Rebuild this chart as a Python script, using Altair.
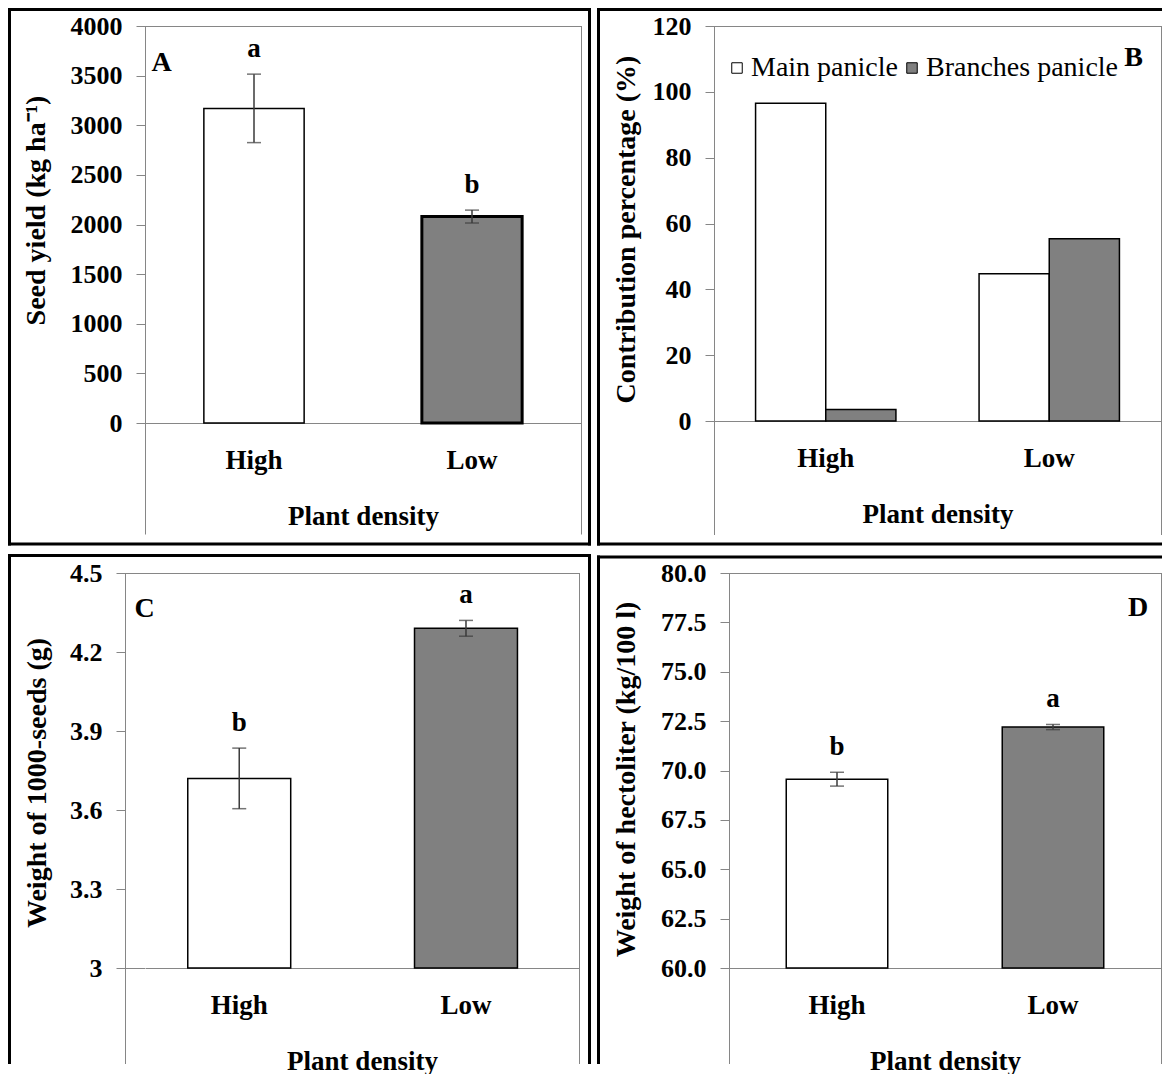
import altair as alt
import pandas as pd

# ---------------- data ----------------
densities = ["High", "Low"]

# A: seed yield (kg/ha)
yield_mean = [3170, 2080]
yield_err = [345, 65]
yield_letter = ["a", "b"]

# B: contribution percentage (%)
parts = ["Main panicle", "Branches panicle"]
contrib_high = [96.5, 3.5]
contrib_low = [44.7, 55.4]

# C: weight of 1000 seeds (g)
tsw_mean = [3.72, 4.29]
tsw_err = [0.115, 0.03]
tsw_letter = ["b", "a"]

# D: hectoliter weight (kg/100 l)
hl_mean = [69.56, 72.2]
hl_err = [0.35, 0.13]
hl_letter = ["b", "a"]

# ---------------- style ----------------
FONT = "Liberation Serif"
GRAY = "#868686"
ERR = "#3a3a3a"
FILLS = ["white", "#808080"]
one = alt.Data(values=[{"k": 0}])


def box(x0, x1, y0, y1, color):
    # filled strip used for panel borders / plot-area frame lines (exact bounds)
    return alt.Chart(one).mark_rect(color=color).encode(
        x=alt.value(x0), x2=alt.value(x1), y=alt.value(y0), y2=alt.value(y1))


def label(x, y, t, size=28):
    return alt.Chart(one).mark_text(font=FONT, fontSize=size, fontWeight="bold", color="black",
                                    align="center", baseline="middle").encode(
        x=alt.value(x), y=alt.value(y), text=alt.value(t))


def y_axis(values, fmt, tx, ty, offset=0):
    return alt.Axis(values=values, format=fmt, grid=False, domainColor=GRAY, tickColor=GRAY,
                    tickSize=9, tickWidth=1, labelFont=FONT, labelFontSize=26, labelFontWeight="bold",
                    labelColor="black", labelPadding=14, labelOverlap=False, offset=offset,
                    titleFont=FONT, titleFontSize=28, titleFontWeight="bold", titleColor="black",
                    titleX=tx, titleY=ty, titleBaseline="middle", titleAlign="center")


def x_axis():
    return alt.Axis(ticks=False, domainColor=GRAY, labelAngle=0, labelFont=FONT, labelFontSize=27,
                    labelFontWeight="bold", labelColor="black", labelBaseline="middle", labelPadding=37,
                    titleFont=FONT, titleFontSize=27, titleFontWeight="bold", titleColor="black",
                    titleY=93, titleBaseline="middle")


def frame(W, H, x0, ext, left, top, right, bottom, sides):
    # grey Excel plot-area frame (extends below the category axis) + 3 px black panel border
    g = [box(x0, x0 + 1, 0, H + ext, GRAY), box(W, W + 1, 0, H + ext, GRAY),
         box(x0, W + 1, 0, 1, GRAY)]
    if x0:
        g.append(box(x0, 0, H, H + 1, GRAY))
    lx = left - 1.5
    rx = right + 1.5 if "r" in sides else right
    by = bottom + 1.5 if "b" in sides else bottom
    if "l" in sides:
        g.append(box(left - 1.5, left + 1.5, top - 1.5, by, "black"))
    if "r" in sides:
        g.append(box(right - 1.5, right + 1.5, top - 1.5, by, "black"))
    if "t" in sides:
        g.append(box(lx, rx, top - 1.5, top + 1.5, "black"))
    if "b" in sides:
        g.append(box(lx, rx, bottom - 1.5, bottom + 1.5, "black"))
    return g


def bar_panel(means, errs, letters, widths, y_title, domain, ticks, fmt, W, H, xsc, tx, ty,
              deco, x0=0):
    df = pd.DataFrame({"density": densities, "value": means, "err": errs, "letter": letters,
                       "sw": widths})
    df["lo"] = df["value"] - df["err"]
    df["hi"] = df["value"] + df["err"]
    df["base"] = domain[0]
    base = alt.Chart(df)
    xenc = alt.X("density:N", sort=densities, title="Plant density", axis=x_axis(), scale=xsc)
    ysc = alt.Scale(domain=domain, nice=False, zero=False)
    yax = y_axis(ticks, fmt, tx, ty, offset=-x0)
    bars = base.mark_bar(stroke="black").encode(
        x=xenc,
        y=alt.Y("value:Q", scale=ysc, axis=yax, title=y_title),
        y2="base:Q",
        fill=alt.Fill("density:N", scale=alt.Scale(domain=densities, range=FILLS), legend=None),
        strokeWidth=alt.StrokeWidth("sw:Q", scale=None),
    )
    eb = base.mark_rule(color=ERR, strokeWidth=1.5).encode(
        x=xenc, y=alt.Y("lo:Q", scale=ysc, axis=yax, title=y_title), y2="hi:Q")
    cap_lo = base.mark_tick(color=ERR, thickness=1.5, size=14, orient="horizontal").encode(
        x=xenc, y=alt.Y("lo:Q", scale=ysc, axis=yax, title=y_title))
    cap_hi = base.mark_tick(color=ERR, thickness=1.5, size=14, orient="horizontal").encode(
        x=xenc, y=alt.Y("hi:Q", scale=ysc, axis=yax, title=y_title))
    txt = base.mark_text(font=FONT, fontSize=27, fontWeight="bold", color="black",
                         baseline="middle", dy=-25).encode(
        x=xenc, y=alt.Y("hi:Q", scale=ysc, axis=yax, title=y_title), text="letter:N")
    return alt.layer(bars, eb, cap_lo, cap_hi, txt, *deco).properties(width=W, height=H)


# ---------------- panel A ----------------
WA, HA = 436, 397
panelA = bar_panel(yield_mean, yield_err, yield_letter, [1.5, 3], "Seed yield (kg ha\u207b\u00b9)",
                   [0, 4000], list(range(0, 4001, 500)), "d", WA, HA,
                   alt.Scale(paddingInner=0.54, paddingOuter=0.27), -109, 184,
                   frame(WA, HA, 0, 111.5, -135.5, -16.5, WA + 8.5, HA + 121, "lrtb")
                   + [label(16.5, 36.6, "A")])

# ---------------- panel B ----------------
WB, HB = 447, 395
dfB = pd.DataFrame({"density": ["High", "High", "Low", "Low"],
                    "part": parts * 2,
                    "value": contrib_high + contrib_low})
barsB = alt.Chart(dfB).mark_bar(stroke="black", strokeWidth=1.5).encode(
    x=alt.X("density:N", sort=densities, title="Plant density", axis=x_axis(),
            scale=alt.Scale(paddingInner=0.372, paddingOuter=0.186)),
    xOffset=alt.XOffset("part:N", sort=parts, scale=alt.Scale(paddingInner=0, paddingOuter=0)),
    y=alt.Y("value:Q", scale=alt.Scale(domain=[0, 120], nice=False),
            axis=y_axis(list(range(0, 121, 20)), "d", -88, 203),
            title="Contribution percentage (%)"),
    fill=alt.Fill("part:N", sort=parts, scale=alt.Scale(domain=parts, range=FILLS),
                  legend=alt.Legend(orient="none", legendX=9, legendY=28, direction="horizontal",
                                    title=None, symbolType="square", symbolSize=110,
                                    symbolStrokeColor="black", symbolStrokeWidth=1,
                                    labelFont=FONT, labelFontSize=28, labelColor="black",
                                    labelOffset=0, columnPadding=0, labelLimit=400)),
)
panelB = alt.layer(barsB, *frame(WB, HB, 0, 114, -115.5, -16.5, WB + 1, HB + 123, "ltb"),
                   label(419.5, 31.5, "B")).properties(width=WB, height=HB)

# ---------------- panel C ----------------
# plot origin shares the column origin with panel A; its value axis sits 20 px further left
WC, HC, XC = 434, 395, -20
panelC = bar_panel(tsw_mean, tsw_err, tsw_letter, [1.5, 1.5], "Weight of 1000-seeds (g)",
                   [3, 4.5], [3, 3.3, 3.6, 3.9, 4.2, 4.5], "~g", WC, HC,
                   alt.Scale(paddingInner=0.546, paddingOuter=0.23, align=0.41), -87.5, 209.5,
                   frame(WC, HC, XC, 96, -135.5, -17.5, WC + 10.5, HC + 96, "lrt")
                   + [label(-0.5, 35.5, "C")], x0=XC)

# ---------------- panel D ----------------
WD, HD = 432, 395
panelD = bar_panel(hl_mean, hl_err, hl_letter, [1.5, 1.5], "Weight of hectoliter (kg/100 l)",
                   [60, 80], [60, 62.5, 65, 67.5, 70, 72.5, 75, 77.5, 80], ".1f", WD, HD,
                   alt.Scale(paddingInner=0.53, paddingOuter=0.265), -103, 206,
                   frame(WD, HD, 0, 96, -130.5, -16, WD + 1, HD + 96, "lt")
                   + [label(409, 35, "D")])

res = dict(fill="independent", strokeWidth="independent")
top = alt.hconcat(panelA, panelB, spacing=6).resolve_scale(**res).resolve_legend(fill="independent")
bottom = alt.hconcat(panelC, panelD, spacing=6).resolve_scale(**res).resolve_legend(fill="independent")
chart = alt.vconcat(top, bottom, spacing=8).resolve_scale(**res).resolve_legend(
    fill="independent").properties(padding=0, background="white").configure_view(strokeWidth=0)

chart.save("out.html", embed_options={"renderer": "svg", "actions": False})
